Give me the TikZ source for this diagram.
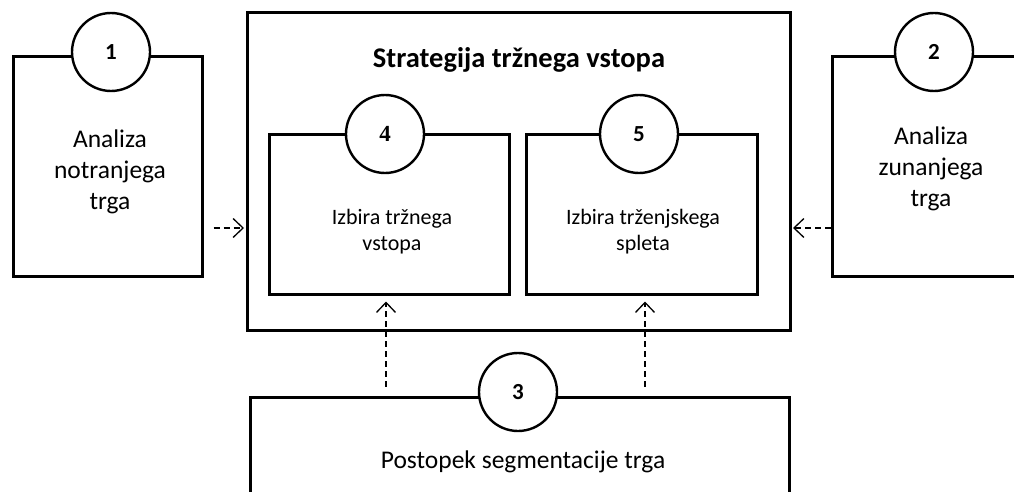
\documentclass[tikz,border=0pt]{standalone}
\usepackage{fontspec}
\setmainfont{Carlito}
\newfontfamily\serifnum{Liberation Serif}
\usetikzlibrary{arrows.meta}
\tikzset{
  box/.style={draw=black, line width=3pt, rectangle, inner sep=0pt, fill=white},
  badge/.style={draw=black, line width=2.4pt, circle, fill=white, minimum size=78pt, inner sep=0pt, font=\fontsize{23}{26}\selectfont\bfseries},
  bigtext/.style={align=center, font=\fontsize{25.5}{31}\selectfont},
  smalltext/.style={align=center, font=\fontsize{22}{26}\selectfont},
  arr/.style={draw=black, line width=1.3pt, dash pattern=on 6pt off 4pt, -{Straight Barb[length=10pt,width=19pt,line width=1.3pt]}}
}
\begin{document}
\begin{tikzpicture}[x=1pt,y=-1pt]
\useasboundingbox (0,0) rectangle (1014,492);
\clip (0,0) rectangle (1014,492);
% outer boxes
\node[box, minimum width=189pt, minimum height=219pt] (box1) at (107.5,166.5) {};
\node[box, minimum width=208pt, minimum height=219pt] (box2) at (936,166.5) {};
\node[box, minimum width=543pt, minimum height=317pt] (main) at (518.5,171.5) {};
\node[box, minimum width=240pt, minimum height=159pt] (box4) at (389,214.5) {};
\node[box, minimum width=231pt, minimum height=159pt] (box5) at (641.5,214.5) {};
\node[box, minimum width=539pt, minimum height=130pt] (box3) at (519.5,462) {};
% badges
\node[badge] (c1) at (111,52) {1};
\node[badge] (c2) at (934,52) {2};
\node[badge] (c4) at (385,134) {{\serifnum\bfseries 4}};
\node[badge] (c5) at (639,134) {5};
\node[badge] (c3) at (518,392) {3};
% texts
\node[font=\fontsize{28.5}{32}\selectfont\bfseries] (title) at (519,60) {Strategija tržnega vstopa};
\node[bigtext] (t1) at (110,172) {Analiza\\notranjega\\trga};
\node[bigtext] (t2) at (931,169) {Analiza\\zunanjega\\trga};
\node[smalltext] (t4) at (392,232) {Izbira tržnega\\vstopa};
\node[smalltext] (t5) at (643,232) {Izbira trženjskega\\spleta};
\node[bigtext] (t3) at (523,462) {Postopek segmentacije trga};
% connectors
\coordinate (hy) at (0,228);
\coordinate (va) at (386,0);
\coordinate (vb) at (645,0);
\draw[arr, shorten <=10pt, shorten >=1.5pt] (box1.east |- hy) -- (main.west |- hy);
\draw[arr, shorten >=1.5pt] (box2.west |- hy) -- (main.east |- hy);
\draw[arr, shorten <=9pt, shorten >=6pt] (box3.north -| va) -- (box4.south -| va);
\draw[arr, shorten <=9pt, shorten >=6pt] (box3.north -| vb) -- (box5.south -| vb);
\end{tikzpicture}
\end{document}
